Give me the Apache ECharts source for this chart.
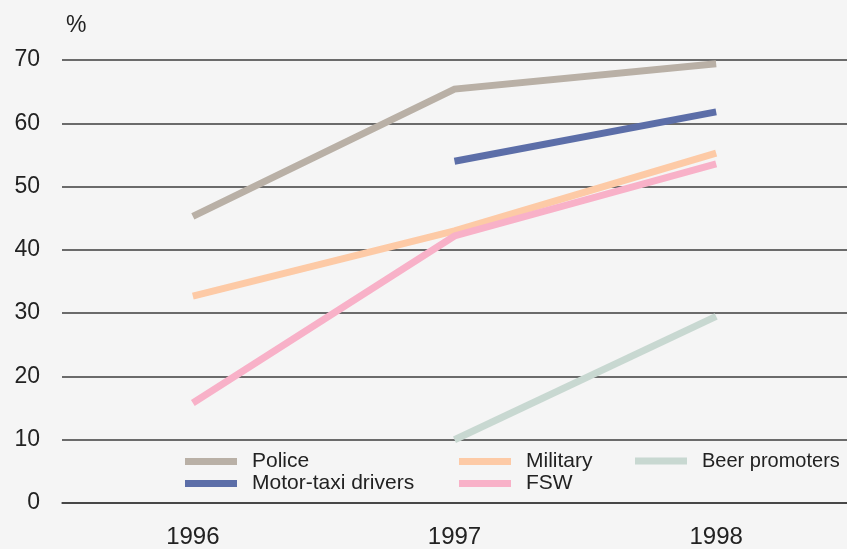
<!DOCTYPE html>
<html>
<head>
<meta charset="utf-8">
<script src="https://cdn.jsdelivr.net/npm/echarts@6/dist/echarts.min.js"></script>
<style>
  html, body { margin: 0; padding: 0; background: #f5f5f5; }
  #main { width: 847px; height: 549px; }
</style>
</head>
<body>
<div id="main"></div>
<script>
const years = ['1996', '1997', '1998']
const police = [45.3, 65.4, 69.4]
const motorTaxi = [null, 54.0, 61.8]
const military = [32.7, 43.0, 55.3]
const fsw = [15.8, 42.2, 53.6]
const beer = [null, 10.0, 29.5]
const yTicks = [0, 10, 20, 30, 40, 50, 60, 70]

const font = '"Liberation Sans", Arial, sans-serif'

const chart = echarts.init(document.getElementById('main'))

function line(name, data, color) {
  return {
    name: name,
    type: 'line',
    data: data,
    showSymbol: false,
    symbol: 'none',
    connectNulls: false,
    color: color,
    lineStyle: { width: 7, color: color, cap: 'butt', join: 'miter' }
  }
}

function legendCol(left, names, size) {
  return {
    orient: 'vertical',
    left: left,
    top: 446,
    data: names,
    icon: 'rect',
    itemWidth: 52,
    itemHeight: 7,
    itemGap: 1,
    textStyle: { fontFamily: font, fontSize: size || 21, color: '#222', padding: [0, 0, 0, 10] },
    selectedMode: false
  }
}

chart.setOption({
  backgroundColor: '#f5f5f5',
  animation: false,
  grid: { left: 62, right: 0, top: 60, bottom: 46 },
  legend: [
    legendCol(180, ['Police', 'Motor-taxi drivers']),
    legendCol(454, ['Military', 'FSW']),
    legendCol(630, ['Beer promoters'], 20)
  ],
  graphic: [{
    type: 'text',
    left: 66,
    top: 14,
    style: { text: '%', font: '23px ' + font, fill: '#222' }
  }],
  xAxis: {
    type: 'category',
    data: years,
    boundaryGap: true,
    axisLine: { lineStyle: { color: '#3c3c3c', width: 1.5 } },
    axisTick: { alignWithLabel: true, length: 8, lineStyle: { color: '#3c3c3c', width: 1.5 } },
    axisLabel: { fontFamily: font, fontSize: 24, color: '#222', margin: 22 }
  },
  yAxis: {
    type: 'value',
    min: yTicks[0],
    max: yTicks[yTicks.length - 1],
    interval: 10,
    axisLine: { show: false },
    axisTick: { show: false },
    axisLabel: { fontFamily: font, fontSize: 23, color: '#222', margin: 22, padding: [0, 0, 5, 0] },
    splitLine: { lineStyle: { color: '#3c3c3c', width: 1.5 } }
  },
  series: [
    line('Police', police, '#b9b0a6'),
    line('Motor-taxi drivers', motorTaxi, '#5c6ea8'),
    line('Military', military, '#fdcaa6'),
    line('FSW', fsw, '#f8b1c8'),
    line('Beer promoters', beer, '#c8d8d1')
  ]
})
</script>
</body>
</html>
